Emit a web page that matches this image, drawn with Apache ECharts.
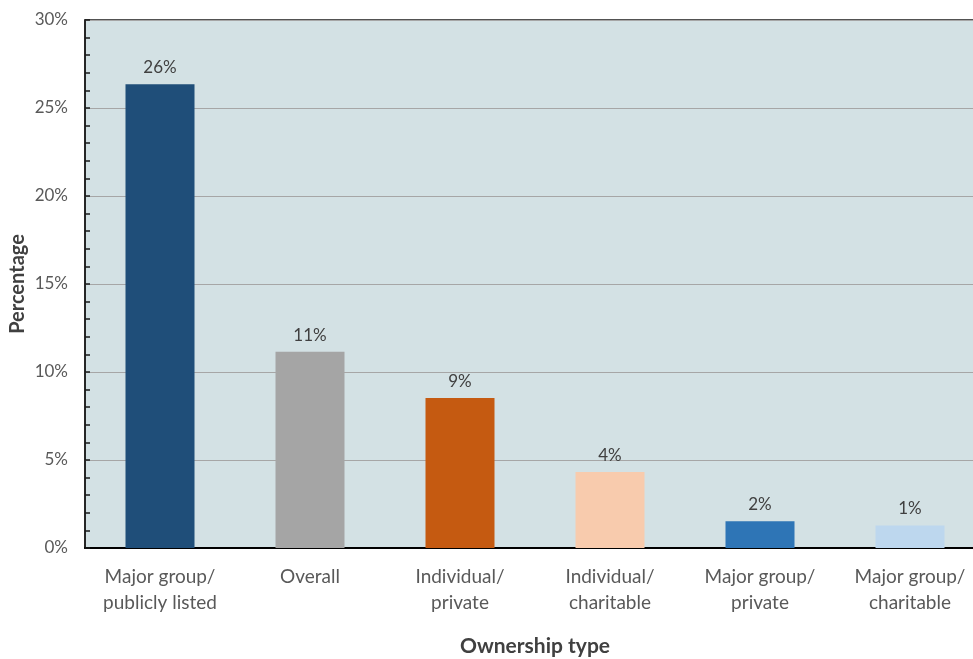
<!DOCTYPE html>
<html>
<head>
<meta charset="utf-8">
<script src="https://cdn.jsdelivr.net/npm/echarts@6/dist/echarts.min.js"></script>
<style>
  html, body { margin: 0; padding: 0; background: #ffffff; }
  #chart { width: 973px; height: 659px; }
</style>
</head>
<body>
<div id="chart"></div>
<script>
// Ownership categories along the x axis
const categories = [
  'Major group/\npublicly listed',
  'Overall',
  'Individual/\nprivate',
  'Individual/\ncharitable',
  'Major group/\nprivate',
  'Major group/\ncharitable'
];
// Percentage for each ownership type
const values = [26.35, 11.15, 8.52, 4.32, 1.52, 1.28];
// Fill colour per bar
const barColors = ['#1f4e79', '#a5a5a5', '#c55a11', '#f8cbad', '#2e75b6', '#bdd7ee'];
// Value-axis tick labels (percent)
const yTicks = [0, 5, 10, 15, 20, 25, 30];

const font = 'Lato, "Open Sans", sans-serif';
const chart = echarts.init(document.getElementById('chart'), null, { renderer: 'canvas' });

chart.setOption({
  animation: false,
  backgroundColor: '#ffffff',
  grid: {
    left: 85,
    top: 20,
    width: 900,
    height: 528,
    outerBoundsMode: 'none',
    containLabel: false,
    show: true,
    backgroundColor: '#d3e1e4',
    borderColor: '#1a1a1a',
    borderWidth: 1.5
  },
  xAxis: {
    type: 'category',
    data: categories,
    name: 'Ownership type',
    nameLocation: 'middle',
    nameGap: 88,
    nameTextStyle: { fontFamily: font, fontSize: 21, fontWeight: 'bold', color: '#404040' },
    axisLine: { show: true, lineStyle: { color: '#000000', width: 2 } },
    axisTick: { show: false },
    axisLabel: {
      fontFamily: font, fontSize: 19, color: '#595959',
      lineHeight: 26, margin: 16, interval: 0
    }
  },
  yAxis: {
    type: 'value',
    min: yTicks[0],
    max: yTicks[yTicks.length - 1],
    interval: 5,
    name: 'Percentage',
    nameLocation: 'middle',
    nameGap: 57,
    nameMoveOverlap: false,
    nameTextStyle: { fontFamily: font, fontSize: 20, fontWeight: 'bold', color: '#404040' },
    axisLine: { show: true, lineStyle: { color: '#1a1a1a', width: 1.5 } },
    axisTick: { show: true, inside: true, length: 5, lineStyle: { color: '#1a1a1a', width: 1.5 } },
    minorTick: { show: true, splitNumber: 5, length: 5, lineStyle: { color: '#1a1a1a', width: 1.5 } },
    axisLabel: {
      fontFamily: font, fontSize: 17, color: '#595959', margin: 17,
      formatter: v => yTicks.includes(v) ? v + '%' : ''
    },
    splitLine: { show: true, lineStyle: { color: '#a6a6a6', width: 1.2 } }
  },
  series: [{
    type: 'bar',
    data: values.map((v, i) => ({ value: v, itemStyle: { color: barColors[i] } })),
    barWidth: 69,
    label: {
      show: true,
      position: 'top',
      distance: 8,
      fontFamily: font,
      fontSize: 17,
      color: '#404040',
      formatter: p => Math.round(p.value) + '%'
    }
  }]
});
</script>
</body>
</html>
